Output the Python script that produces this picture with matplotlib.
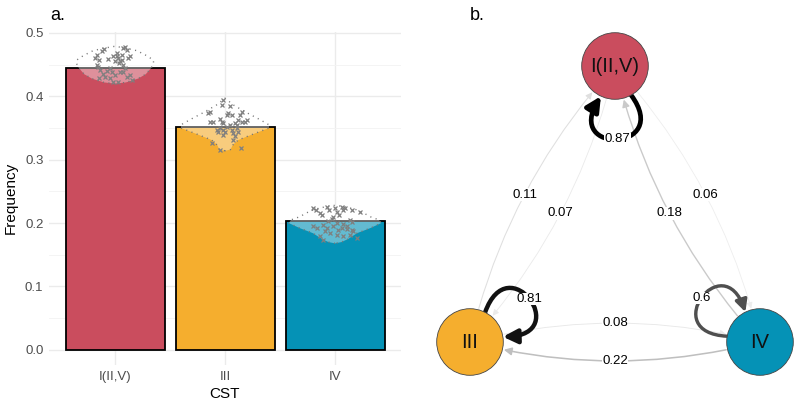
import numpy as np
import matplotlib
matplotlib.use("Agg")
import matplotlib.pyplot as plt
from matplotlib.patches import Circle, FancyArrowPatch
from matplotlib.path import Path

plt.rcParams.update({'font.family': ['Liberation Sans', 'DejaVu Sans'],
                     'font.size': 10})

# ---- panel a data ----
cst = ["I(II,V)", "III", "IV"]
freq = [0.445, 0.352, 0.203]
bar_colors = ["#CA4D5E", "#F5AE2E", "#0592B6"]

# bootstrap samples (x jitter offset, frequency)
boot_I_dx = [-0.18, -0.16, -0.143, -0.121, -0.10, -0.167, -0.061, -0.015, 0.015, 0.03,
             0.045, 0.061, 0.076, 0.091, 0.106, 0.121, 0.136, 0.039, 0.07, -0.152,
             -0.136, -0.112, -0.076, -0.045, -0.03, 0.0, 0.045, 0.076, 0.106, 0.136,
             0.152, -0.015, 0.03, -0.045, -0.091, -0.143, 0.091, 0.061, 0.021, 0.0]
boot_I_y = [0.460, 0.466, 0.457, 0.472, 0.475, 0.450, 0.459, 0.464, 0.469, 0.460,
            0.456, 0.465, 0.476, 0.478, 0.473, 0.460, 0.464, 0.452, 0.450, 0.447,
            0.442, 0.436, 0.440, 0.444, 0.439, 0.434, 0.438, 0.438, 0.430, 0.434,
            0.426, 0.423, 0.423, 0.429, 0.431, 0.429, 0.444, 0.457, 0.463, 0.455]

boot_III_dx = [-0.015, -0.03, 0.045, 0.03, 0.061, 0.015, -0.136, -0.152, -0.136, -0.106,
               -0.045, -0.03, -0.015, 0.152, 0.136, 0.121, 0.152, 0.182, 0.197, 0.091,
               0.106, -0.045, -0.015, -0.061, 0.0, 0.061, 0.076, 0.106, 0.121, -0.121,
               -0.045, 0.142, 0.091, 0.076, 0.015, 0.045, -0.076, -0.015]
boot_III_y = [0.395, 0.386, 0.384, 0.373, 0.371, 0.371, 0.376, 0.373, 0.360, 0.360,
              0.365, 0.360, 0.358, 0.376, 0.371, 0.363, 0.360, 0.360, 0.363, 0.358,
              0.355, 0.350, 0.347, 0.344, 0.344, 0.347, 0.342, 0.350, 0.344, 0.326,
              0.316, 0.318, 0.337, 0.331, 0.352, 0.355, 0.347, 0.339]

boot_IV_dx = [-0.197, -0.173, -0.136, -0.076, -0.052, 0.0, 0.015, 0.061, 0.076, 0.091,
              0.152, 0.227, -0.121, -0.015, 0.039, -0.03, -0.061, 0.015, 0.076, 0.136,
              0.152, -0.197, -0.167, -0.106, -0.076, -0.015, 0.03, 0.061, 0.106, 0.152,
              0.167, -0.091, -0.045, -0.136, 0.015, 0.076, 0.136, -0.106, 0.197, 0.106]
boot_IV_y = [0.224, 0.221, 0.216, 0.225, 0.221, 0.224, 0.218, 0.226, 0.221, 0.224,
             0.221, 0.218, 0.213, 0.210, 0.212, 0.207, 0.203, 0.200, 0.198, 0.205,
             0.202, 0.195, 0.192, 0.197, 0.192, 0.195, 0.189, 0.192, 0.195, 0.189,
             0.187, 0.187, 0.184, 0.179, 0.181, 0.179, 0.181, 0.173, 0.176, 0.191]

# violin outlines of the bootstrap distributions (frequency, half width)
vio_I_y = [0.420, 0.422, 0.428, 0.435, 0.445, 0.452, 0.457, 0.464, 0.472, 0.476, 0.479]
vio_I_w = [0.0, 0.10, 0.21, 0.28, 0.33, 0.35, 0.35, 0.29, 0.20, 0.10, 0.0]
vio_III_y = [0.314, 0.316, 0.323, 0.331, 0.340, 0.350, 0.355, 0.363, 0.374, 0.386, 0.397]
vio_III_w = [0.0, 0.05, 0.07, 0.12, 0.25, 0.40, 0.40, 0.32, 0.20, 0.08, 0.0]
vio_IV_y = [0.168, 0.170, 0.175, 0.184, 0.192, 0.200, 0.205, 0.210, 0.216, 0.222, 0.226, 0.228]
vio_IV_w = [0.0, 0.06, 0.12, 0.20, 0.32, 0.42, 0.40, 0.32, 0.26, 0.18, 0.08, 0.0]

boot_dx = [boot_I_dx, boot_III_dx, boot_IV_dx]
boot_y = [boot_I_y, boot_III_y, boot_IV_y]
vio_y = [vio_I_y, vio_III_y, vio_IV_y]
vio_w = [vio_I_w, vio_III_w, vio_IV_w]

# ---- panel b data ----
nodes = ["I(II,V)", "III", "IV"]
node_xy = [(615, 66), (470, 342), (760, 342)]   # layout in pixel units
self_prob = [0.87, 0.81, 0.6]
loop_angle = [88, -36, -143]
edge_from = [1, 0, 2, 0, 1, 2]
edge_to = [0, 1, 0, 2, 2, 1]
edge_prob = [0.11, 0.07, 0.18, 0.06, 0.08, 0.22]

fig = plt.figure(figsize=(8, 4.07), dpi=100)

# ================= panel a =================
ax = fig.add_axes([49 / 800, 42 / 407, 352 / 800, 333.3 / 407])
xpos = np.arange(1, 4)
ax.bar(xpos, freq, width=0.9, color=bar_colors, edgecolor='black', linewidth=1.3, zorder=2)
for i in range(3):
    yy = np.array(vio_y[i])
    ww = np.array(vio_w[i])
    px = np.concatenate([xpos[i] - ww, (xpos[i] + ww)[::-1]])
    py = np.concatenate([yy, yy[::-1]])
    ax.fill(px, py, facecolor='white', alpha=0.38, edgecolor='none', zorder=3)
    ax.plot(np.append(px, px[0]), np.append(py, py[0]), color='#777777', lw=1.0,
            ls=(0, (0.8, 3.2)), zorder=4)
    ax.plot(xpos[i] + np.array(boot_dx[i]), boot_y[i], 'x', color='#7f7f7f',
            markersize=3.2, mew=0.9, zorder=5)

ax.set_xlim(0.4, 3.6)
ax.set_ylim(-0.024, 0.502)
ax.set_xticks(xpos)
ax.set_xticklabels(cst)
ax.set_yticks(np.arange(0, 0.51, 0.1))
ax.set_yticklabels([f"{v:.1f}" for v in np.arange(0, 0.51, 0.1)])
ax.set_yticks(np.arange(0.05, 0.5, 0.1), minor=True)
ax.grid(True, which='major', color='#ebebeb', lw=1.0, zorder=0)
ax.grid(True, which='minor', axis='y', color='#f3f3f3', lw=0.6, zorder=0)
ax.set_axisbelow(True)
for s in ax.spines.values():
    s.set_visible(False)
ax.tick_params(which='both', length=0, labelsize=9.5, labelcolor='#4d4d4d', pad=4)
ax.set_xlabel("CST", fontsize=11, labelpad=3)
ax.set_ylabel("Frequency", fontsize=11, labelpad=5)
fig.text(50 / 800, 1 - 15 / 407, "a.", fontsize=13, va='center', ha='left')

# ================= panel b =================
bx = fig.add_axes([420 / 800, 0, 380 / 800, 1])
bx.set_xlim(420, 800)
bx.set_ylim(407, 0)
bx.axis('off')
fig.text(470 / 800, 1 - 15 / 407, "b.", fontsize=13, va='center', ha='left')

r = 33.3
pmax = max(self_prob)


def edge_style(p):
    g = 1 - p / pmax
    col = (g, g, g)
    lw = (0.5 + 4.2 * p / pmax) * 0.72
    ms = 8 + 14 * p / pmax
    return col, lw, ms


rad = -0.13
for a, b, p in sorted(zip(edge_from, edge_to, edge_prob), key=lambda t: t[2]):
    col, lw, ms = edge_style(p)
    (x1, y1), (x2, y2) = node_xy[a], node_xy[b]
    arr = FancyArrowPatch((x1, y1), (x2, y2), connectionstyle=f"arc3,rad={rad}",
                          arrowstyle='-|>', mutation_scale=ms, color=col, lw=lw,
                          shrinkA=r * 0.72 + 1, shrinkB=r * 0.72 + 1, zorder=2)
    bx.add_patch(arr)
    # label at the middle of the (quadratic) arc, pixel coords with y down
    dx, dy = x2 - x1, y2 - y1
    lx = (x1 + x2) / 2 + 0.5 * rad * (-dy)
    ly = (y1 + y2) / 2 + 0.5 * rad * dx
    bx.text(lx, ly, f"{p:g}", fontsize=9.5, ha='center', va='center', zorder=6,
            bbox=dict(facecolor='white', edgecolor='none', pad=0.3))

for i in range(3):
    col, lw, ms = edge_style(self_prob[i])
    cx, cy = node_xy[i]
    th = np.deg2rad(loop_angle[i])
    a0, a1 = th - np.deg2rad(27), th + np.deg2rad(27)
    c0, c1 = th - np.deg2rad(32), th + np.deg2rad(32)
    R = 3.1 * r
    p0 = (cx + r * np.cos(a0), cy + r * np.sin(a0))
    p1 = (cx + R * np.cos(c0), cy + R * np.sin(c0))
    p2 = (cx + R * np.cos(c1), cy + R * np.sin(c1))
    p3 = (cx + r * np.cos(a1), cy + r * np.sin(a1))
    path = Path([p0, p1, p2, p3], [Path.MOVETO, Path.CURVE4, Path.CURVE4, Path.CURVE4])
    loop = FancyArrowPatch(path=path, arrowstyle='-|>', mutation_scale=ms, color=col,
                           lw=lw, shrinkA=0, shrinkB=0, zorder=3)
    bx.add_patch(loop)
    mx = (p0[0] + 3 * p1[0] + 3 * p2[0] + p3[0]) / 8
    my = (p0[1] + 3 * p1[1] + 3 * p2[1] + p3[1]) / 8
    bx.text(mx, my, f"{self_prob[i]:g}", fontsize=9.5, ha='center', va='center', zorder=6,
            bbox=dict(facecolor='white', edgecolor='none', pad=0.3))

for i in range(3):
    cx, cy = node_xy[i]
    bx.add_patch(Circle((cx, cy), r, facecolor=bar_colors[i], edgecolor='#444444',
                        lw=0.6, zorder=5))
    bx.text(cx, cy, nodes[i], fontsize=14.5, ha='center', va='center', color='#111111',
            zorder=7)

fig.savefig("out.png", dpi=100)
